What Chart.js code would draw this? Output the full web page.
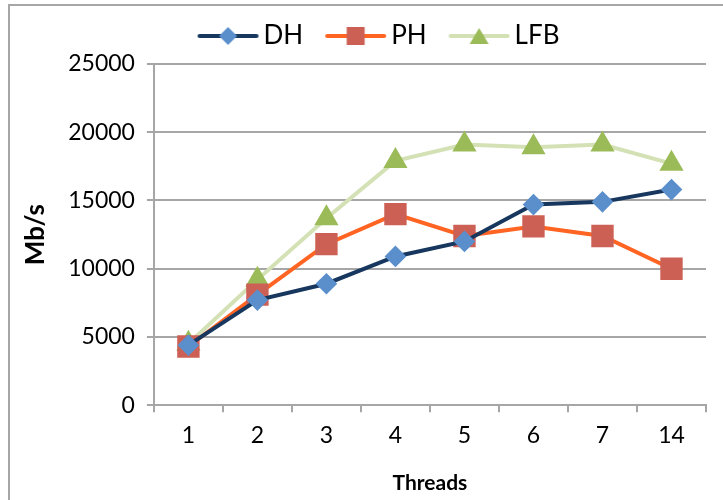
<!DOCTYPE html>
<html>
<head>
<meta charset="utf-8">
<script src="https://cdn.jsdelivr.net/npm/chart.js@4/dist/chart.umd.min.js"></script>
<style>
  html, body { margin: 0; padding: 0; background: #fff; }
  #wrap { position: relative; width: 723px; height: 500px; }
  #frame { position: absolute; left: 8px; top: 4px; right: 0; bottom: 0;
    border-left: 2px solid #a6a6a6; border-top: 2px solid #a6a6a6; }
  canvas { position: absolute; left: 0; top: 0; }
</style>
</head>
<body>
<div id="wrap">
  <div id="frame"></div>
  <canvas id="myChart" width="723" height="500"></canvas>
</div>
<script>
'use strict';

// chart data
let threads = ['1', '2', '3', '4', '5', '6', '7', '14'];
let dhValues = [4400, 7700, 8900, 10900, 12000, 14700, 14900, 15800];
let phValues = [4300, 8100, 11800, 14000, 12400, 13100, 12400, 10000];
let lfbValues = [4500, 9200, 13700, 17900, 19100, 18900, 19100, 17700];
let yTicks = [0, 5000, 10000, 15000, 20000, 25000];

let fontName = 'Lato, "Open Sans", sans-serif';

// little line + marker picture for the legend
function legendIcon(lineColor, markColor, shape) {
  let c = document.createElement('canvas');
  c.width = 63;
  c.height = 22;
  let g = c.getContext('2d');
  g.strokeStyle = lineColor;
  g.lineWidth = 4;
  g.lineCap = 'round';
  g.beginPath();
  g.moveTo(3, 11);
  g.lineTo(60, 11);
  g.stroke();
  g.fillStyle = markColor;
  g.beginPath();
  if (shape === 'diamond') {
    g.moveTo(31.5, 2); g.lineTo(40.5, 11); g.lineTo(31.5, 20); g.lineTo(22.5, 11);
  } else if (shape === 'square') {
    g.rect(22.5, 2, 18, 18);
  } else {
    g.moveTo(31.5, 3); g.lineTo(41, 19); g.lineTo(22, 19);
  }
  g.closePath();
  g.fill();
  return c;
}

let icons = [
  legendIcon('#17375e', '#5a8fcc', 'diamond'),
  legendIcon('#ff6423', '#cd6055', 'square'),
  legendIcon('#d3e1b5', '#9bbb59', 'triangle')
];

// nudge the legend a bit right and up, like the original
let legendShift = {
  id: 'legendShift',
  afterLayout: function (chart) {
    let lg = chart.legend;
    lg.left += 18;
    lg.right += 18;
    lg.top -= 5;
    lg.bottom -= 5;
  }
};

let ctx = document.getElementById('myChart').getContext('2d');
let chartObject = {
  type: 'line',
  data: {
    labels: threads,
    datasets: [{
      label: 'DH',
      data: dhValues,
      borderColor: '#17375e',
      backgroundColor: '#5a8fcc',
      pointBackgroundColor: '#5a8fcc',
      pointBorderColor: '#5a8fcc',
      pointStyle: 'rectRot',
      pointRadius: 8,
      borderWidth: 4,
      tension: 0
    },
    {
      label: 'PH',
      data: phValues,
      borderColor: '#ff6423',
      backgroundColor: '#cd6055',
      pointBackgroundColor: '#cd6055',
      pointBorderColor: '#cd6055',
      pointStyle: 'rect',
      pointRadius: 13,
      borderWidth: 4,
      tension: 0
    },
    {
      label: 'LFB',
      data: lfbValues,
      borderColor: '#d3e1b5',
      backgroundColor: '#9bbb59',
      pointBackgroundColor: '#9bbb59',
      pointBorderColor: '#9bbb59',
      pointStyle: 'triangle',
      pointRadius: 10,
      borderWidth: 4,
      tension: 0
    }]
  },
  options: {
    responsive: false,
    animation: false,
    layout: {
      padding: { left: 20, right: 14, top: -2, bottom: 4 }
    },
    plugins: {
      tooltip: { enabled: false },
      legend: {
        position: 'top',
        labels: {
          color: '#000',
          font: { family: fontName, size: 26 },
          usePointStyle: true,
          pointStyleWidth: 45,
          padding: 30,
          generateLabels: function (chart) {
            let items = Chart.defaults.plugins.legend.labels.generateLabels(chart);
            for (let i = 0; i < items.length; i++) {
              items[i].pointStyle = icons[i];
            }
            return items;
          }
        }
      }
    },
    scales: {
      x: {
        offset: true,
        grid: {
          offset: true,
          drawOnChartArea: false,
          drawTicks: true,
          tickLength: 7,
          color: '#a6a6a6',
          lineWidth: 2
        },
        border: { color: '#a6a6a6', width: 2 },
        ticks: {
          color: '#000',
          font: { family: fontName, size: 23 },
          padding: 10,
          autoSkip: false,
          maxRotation: 0
        },
        title: {
          display: true,
          text: 'Threads',
          color: '#000',
          font: { family: fontName, size: 21, weight: 'bold' },
          padding: { top: 11, bottom: 0 }
        }
      },
      y: {
        min: 0,
        max: 25000,
        afterBuildTicks: function (axis) {
          axis.ticks = yTicks.map(v => ({ value: v }));
        },
        grid: {
          color: '#a6a6a6',
          lineWidth: 2,
          drawTicks: true,
          tickLength: 7
        },
        border: { color: '#a6a6a6', width: 2 },
        ticks: {
          color: '#000',
          font: { family: fontName, size: 23 },
          padding: 12,
          callback: function (value) {
            return String(value);
          }
        },
        title: {
          display: true,
          text: 'Mb/s',
          color: '#000',
          font: { family: fontName, size: 26, weight: 'bold' },
          padding: { top: 0, bottom: 5 }
        }
      }
    }
  },
  plugins: [legendShift]
};
new Chart(ctx, chartObject); // eslint-disable-line
</script>
</body>
</html>
